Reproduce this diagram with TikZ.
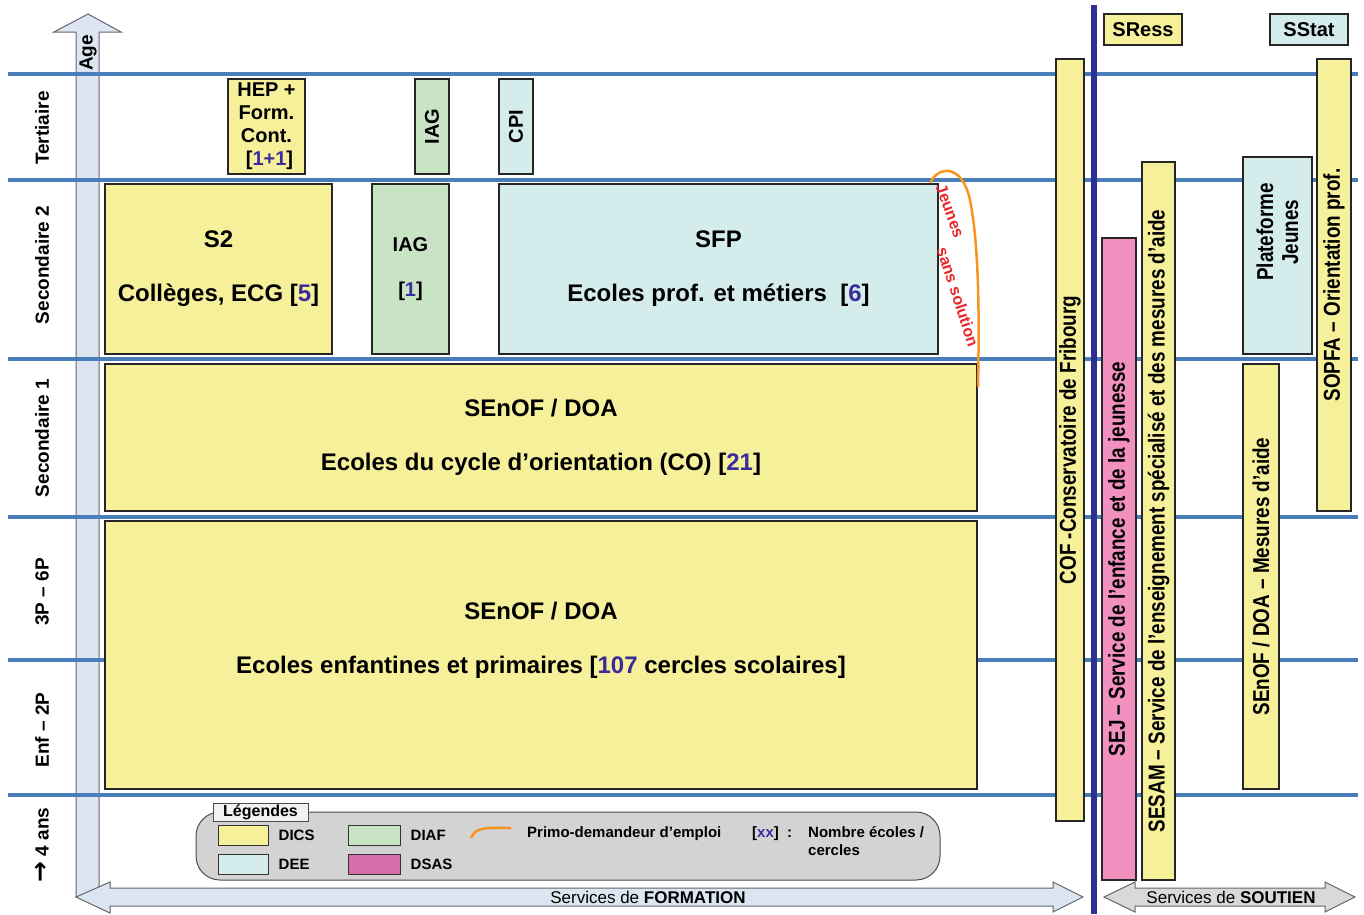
\documentclass[tikz,border=0pt]{standalone}
\usepackage{fontspec}
\setmainfont{Liberation Sans}
\newfontfamily\narrowsf[FakeStretch=0.82]{Liberation Sans}
\newfontfamily\symsf{DejaVu Sans}
\usetikzlibrary{positioning}

\definecolor{dics}{HTML}{F6F09A}
\definecolor{diaf}{HTML}{C9E3C5}
\definecolor{dee}{HTML}{D4ECEC}
\definecolor{sejpink}{HTML}{F291BF}
\definecolor{dsas}{HTML}{D66CA9}
\definecolor{bandblue}{HTML}{4A7EBB}
\definecolor{darkline}{HTML}{2E3192}
\definecolor{arrowblue}{HTML}{DCE6F2}
\definecolor{primo}{HTML}{F7941E}
\definecolor{redtext}{HTML}{E8262A}
\definecolor{numblue}{HTML}{3B2C9B}
\definecolor{leggray}{HTML}{D3D3D3}

\newcommand\nb[1]{\textcolor{numblue}{#1}}
\newcommand\fsz[2]{\fontsize{#1}{#2}\selectfont}

\begin{document}
\begin{tikzpicture}[x=1pt, y=-1pt,
    box/.style={draw=black!85, line width=1.6pt, inner sep=0pt, align=center, font=\fsz{24}{28}\bfseries},
    smallbox/.style={box, font=\fsz{20}{23}\bfseries},
    vbox/.style={box, rotate=90, font=\narrowsf\fsz{23}{26}\bfseries},
    rowlabel/.style={rotate=90, font=\fsz{19}{22}\bfseries},
    band/.style={draw=bandblue, line width=3.5pt},
    bigarrow/.style={draw=black!60, line width=1pt},
    swatch/.style={draw=black!80, line width=1pt, minimum width=50pt, minimum height=20pt, inner sep=0pt},
    legtext/.style={anchor=west, inner sep=0pt, font=\fsz{15}{18}\bfseries},
    jstext/.style={redtext, inner sep=0pt, font=\fsz{16}{18}\bfseries}]

    \useasboundingbox (0,0) rectangle (1364,914);

    % age axis, behind the bands
    \draw[bigarrow, fill=arrowblue] (76,897) -- (76,32) -- (54,32) -- (88,14) -- (121,32) -- (99,32) -- (99,897) -- cycle;
    \node[rotate=90, font=\fsz{19}{22}\bfseries] (age) at (88,53) {Age};

    % horizontal bands between the levels
    \foreach \y in {74,180,359,517,660,795}
        \draw[band] (8,\y) -- (1358,\y);

    % levels
    \node[rowlabel] (tert) at (42,128) {Tertiaire};
    \node[rowlabel] (sec2) at (42,265) {Secondaire 2};
    \node[rowlabel] (sec1) at (42,438) {Secondaire 1};
    \node[rowlabel] (p36) at (42,592) {3P – 6P};
    \node[rowlabel] (enf) at (42,730) {Enf – 2P};
    \node[rowlabel] (ans) at (42,845) {{\symsf\bfseries\fsz{25}{22}→} 4 ans};

    % tertiary
    \node[smallbox, fill=dics, minimum width=77pt, minimum height=95pt] (hep) at (266.5,126.5) {HEP +\\Form.\\Cont.\\\hspace{6pt}[\nb{1+1}]};
    \node[smallbox, fill=diaf, rotate=90, minimum width=95pt, minimum height=34pt] (iagt) at (432,126.5) {IAG};
    \node[smallbox, fill=dee, rotate=90, minimum width=95pt, minimum height=34pt] (cpi) at (516,126.5) {CPI};

    % secondary 2
    \node[box, fill=dics, minimum width=227pt, minimum height=170pt] (s2) at (218.5,269) {S2\\[26pt]Collèges, ECG [\nb{5}]};
    \node[smallbox, fill=diaf, minimum width=77pt, minimum height=170pt] (iag) at (410.5,269) {IAG\\[22pt][\nb{1}]};
    \node[box, fill=dee, minimum width=439pt, minimum height=170pt] (sfp) at (718.5,269) {SFP\\[26pt]Ecoles prof. et métiers\ \ [\nb{6}]};

    % secondary 1 and primary
    \node[box, fill=dics, minimum width=872pt, minimum height=147pt] (co) at (541,437.5) {SEnOF / DOA\\[26pt]Ecoles du cycle d’orientation (CO) [\nb{21}]};
    \node[box, fill=dics, minimum width=872pt, minimum height=268pt] (prim) at (541,655) {};
    \node[font=\fsz{24}{28}\bfseries, align=center] (primtext) at (541,640) {SEnOF / DOA\\[26pt]Ecoles enfantines et primaires [\nb{107} cercles scolaires]};

    % young people without solution
    \coordinate (jsstart) at (930,183);
    \coordinate (jsend) at (978,387);
    \draw[primo, line width=2.5pt] (jsstart) .. controls (938,166) and (962,163) .. (970,200)
        .. controls (980,250) and (979,330) .. (jsend);
    \node[jstext, rotate=-70] (jeunes) at (950,211) {Jeunes};
    \node[jstext, rotate=-72] (sanssol) at (958,297) {sans solution};

    % formation arrow
    \draw[bigarrow, fill=arrowblue] (76,897) -- (110,882) -- (110,888) -- (1053,888) -- (1053,882) -- (1083,897)
        -- (1053,912) -- (1053,906) -- (110,906) -- (110,913) -- cycle;
    \node[font=\fsz{17}{20}] (formation) at (648,897) {Services de \textbf{FORMATION}};

    \node[vbox, fill=dics, minimum width=762pt, minimum height=28pt] (cof) at (1070,440) {COF -Conservatoire de Fribourg};

    % separation formation / soutien
    \draw[darkline, line width=6pt] (1094,5) -- (1094,914);

    % support services
    \node[smallbox, fill=dics, minimum width=78pt, minimum height=31pt] (sress) at (1143,29.5) {SRess};
    \node[smallbox, fill=dee, minimum width=78pt, minimum height=31pt] (sstat) at (1309,29.5) {SStat};
    \node[vbox, fill=sejpink, minimum width=642pt, minimum height=34pt] (sej) at (1119,559) {SEJ – Service de l’enfance et de la jeunesse};
    \node[vbox, fill=dics, minimum width=718pt, minimum height=33pt] (sesam) at (1158.5,521) {SESAM – Service de l’enseignement spécialisé et des mesures d’aide};
    \node[vbox, fill=dee, minimum width=197pt, minimum height=69pt] (pfj) at (1277.5,255.5) {};
    \node[rotate=90, align=center, font=\narrowsf\fsz{23}{25}\bfseries] (pfjtext) at (1277.5,232) {Plateforme\\Jeunes};
    \node[vbox, fill=dics, minimum width=425pt, minimum height=36pt] (mesure) at (1261,576.5) {SEnOF / DOA – Mesures d’aide};
    \node[vbox, fill=dics, minimum width=452pt, minimum height=34pt] (sopfa) at (1334,285) {SOPFA – Orientation prof.};

    \draw[bigarrow, fill=black!15] (1104,897) -- (1135,882) -- (1135,888) -- (1325,888) -- (1325,882) -- (1355,897)
        -- (1325,912) -- (1325,906) -- (1135,906) -- (1135,912) -- cycle;
    \node[font=\fsz{17}{20}] (soutien) at (1231,897) {Services de \textbf{SOUTIEN}};

    % legend
    \draw[draw=black!70, line width=1pt, fill=leggray, rounded corners=24pt] (196,812) rectangle (940,880);
    \node[draw=black!70, line width=1pt, fill=black!5, minimum width=95pt, minimum height=18pt, inner sep=0pt, font=\fsz{16}{18}\bfseries] (legtitle) at (260.5,812) {Légendes};
    \node[swatch, fill=dics] (swdics) at (243,835) {};
    \node[swatch, fill=dee] (swdee) at (243,864) {};
    \node[swatch, fill=diaf, minimum width=52pt] (swdiaf) at (374,835) {};
    \node[swatch, fill=dsas, minimum width=52pt] (swdsas) at (374,864) {};
    \node[legtext, right=10pt of swdics] (ldics) {DICS};
    \node[legtext, right=10pt of swdee] (ldee) {DEE};
    \node[legtext, right=10pt of swdiaf] (ldiaf) {DIAF};
    \node[legtext, right=10pt of swdsas] (ldsas) {DSAS};
    \draw[primo, line width=2.5pt] (471,838) .. controls (476,826) and (488,828) .. (511,828);
    \node[legtext] (lprimo) at (527,834) {Primo-demandeur d’emploi};
    \node[legtext] (lxx) at (752,834) {[\nb{xx}]\ \ :};
    \node[legtext, anchor=north west, align=left] (lnb) at (808,826) {Nombre écoles /\\cercles};
\end{tikzpicture}
\end{document}
